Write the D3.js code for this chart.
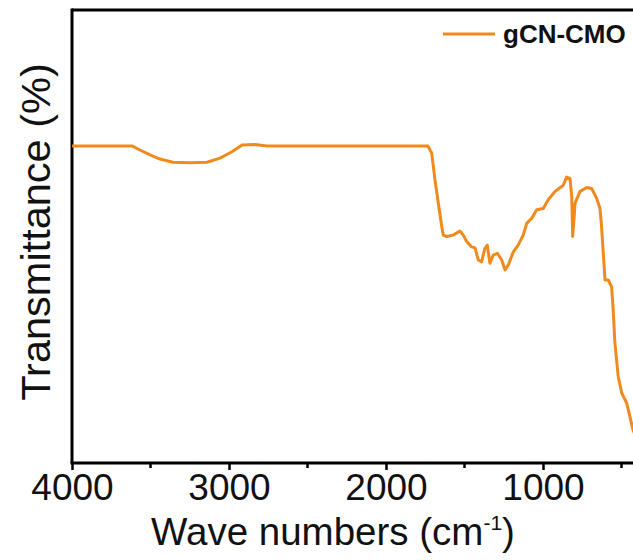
<!DOCTYPE html>
<html>
<head>
<meta charset="utf-8">
<script src="https://cdn.jsdelivr.net/npm/d3@7"></script>
<style>
  body { margin: 0; background: #fff; }
  text { font-family: Arial, "Liberation Sans", sans-serif; fill: #111; }
</style>
</head>
<body>
<div id="chart"></div>
<script>
const width = 633;
const height = 560;

// FTIR spectrum (wave number, transmittance in arbitrary %)
const waveNumbers = [4000, 3885, 3758, 3618, 3567, 3503, 3440, 3357, 3248, 3140, 3057, 2981, 2917, 2834, 2758,
    2548, 2229, 1911, 1733, 1709, 1688, 1667, 1645, 1635, 1614, 1572, 1529, 1508, 1486, 1454, 1433, 1412, 1391,
    1370, 1355, 1338, 1317, 1291, 1263, 1242, 1221, 1189, 1158, 1126, 1104, 1072, 1040, 998, 967, 924, 871, 850,
    828, 817, 811, 803, 796, 765, 722, 690, 658, 637, 627, 616, 605, 584, 563, 553, 542, 521, 499, 467, 446, 427, 400];
const transmittance = [70.0, 70.0, 70.0, 70.0, 69.1, 68.0, 67.1, 66.4, 66.3, 66.4, 67.3, 68.7, 70.2, 70.3, 70.0,
    70.0, 70.0, 70.0, 70.0, 68.4, 62.5, 57.4, 52.2, 50.3, 50.0, 50.3, 51.2, 50.3, 48.9, 47.7, 47.5, 44.8, 44.4,
    47.4, 48.1, 44.1, 45.9, 46.3, 44.8, 42.6, 43.7, 46.6, 48.1, 50.3, 52.9, 54.0, 55.9, 56.2, 58.1, 59.9, 61.3, 63.1,
    62.8, 58.8, 50.0, 53.6, 57.3, 59.9, 60.8, 60.6, 58.4, 56.2, 52.2, 46.3, 40.4, 40.4, 38.9, 33.8, 26.5, 19.1, 15.5, 13.2, 10.2, 7.3, 5.1];
const majorTicks = [4000, 3000, 2000, 1000];
const minorTicks = [3500, 2500, 1500, 500];
const seriesName = "gCN-CMO";

const plotLeft = 72, plotTop = 10, plotBottom = 463;

const x = d3.scaleLinear()
    .domain([4000, 400])
    .range([plotLeft, plotLeft + 3600 * 0.157]);

const y = d3.scaleLinear()
    .domain([0, 100])
    .range([plotBottom, plotTop]);

const svg = d3.select("#chart")
    .append("svg")
        .attr("width", width)
        .attr("height", height)
        .style("background", "#fff");

const data = waveNumbers.map((w, i) => ({w: w, t: transmittance[i]}));

const line = d3.line()
    .x(d => x(d.w))
    .y(d => y(d.t));

// frame: top + left
svg.append("line")
    .attr("x1", plotLeft).attr("x2", width + 10)
    .attr("y1", plotTop).attr("y2", plotTop)
    .attr("stroke", "#000").attr("stroke-width", 3);

svg.append("line")
    .attr("x1", plotLeft).attr("x2", plotLeft)
    .attr("y1", plotTop - 1.5).attr("y2", plotBottom)
    .attr("stroke", "#000").attr("stroke-width", 3);

// bottom axis
const xAxis = svg.append("g")
    .attr("transform", `translate(0, ${plotBottom})`)
    .call(d3.axisBottom(x).tickValues(majorTicks).tickSize(7).tickPadding(4).tickFormat(d3.format("d")));

xAxis.select(".domain")
    .attr("stroke-width", 3)
    .attr("d", `M${plotLeft - 1.5},0H${width + 10}`);
xAxis.selectAll(".tick line").attr("stroke-width", 2.5);
xAxis.selectAll(".tick text")
    .style("font-size", "37px")
    .attr("fill", "#111");

svg.append("g")
    .attr("transform", `translate(0, ${plotBottom})`)
    .selectAll("line")
    .data(minorTicks)
    .enter().append("line")
        .attr("x1", d => x(d)).attr("x2", d => x(d))
        .attr("y1", 0).attr("y2", 5)
        .attr("stroke", "#000")
        .attr("stroke-width", 2.5);

// spectrum
svg.append("path")
    .datum(data)
    .attr("d", line)
    .attr("fill", "none")
    .attr("stroke", "#f08a1c")
    .attr("stroke-width", 3)
    .attr("stroke-linejoin", "round");

// legend
svg.append("line")
    .attr("x1", 443).attr("x2", 495)
    .attr("y1", 34).attr("y2", 34)
    .attr("stroke", "#f08a1c")
    .attr("stroke-width", 3);

svg.append("text")
    .attr("x", 503).attr("y", 43)
    .style("font-size", "26px")
    .style("font-weight", "bold")
    .text(seriesName);

// axis titles
const xTitle = svg.append("text")
    .attr("x", 333).attr("y", 545)
    .attr("text-anchor", "middle")
    .style("font-size", "38.5px");
xTitle.append("tspan").text("Wave numbers (cm");
xTitle.append("tspan").attr("dy", -15).style("font-size", "21px").text("-1");
xTitle.append("tspan").attr("dy", 15).text(")");

svg.append("text")
    .attr("transform", `translate(50, 232) rotate(-90)`)
    .attr("text-anchor", "middle")
    .style("font-size", "41.5px")
    .text("Transmittance (%)");
</script>
</body>
</html>
